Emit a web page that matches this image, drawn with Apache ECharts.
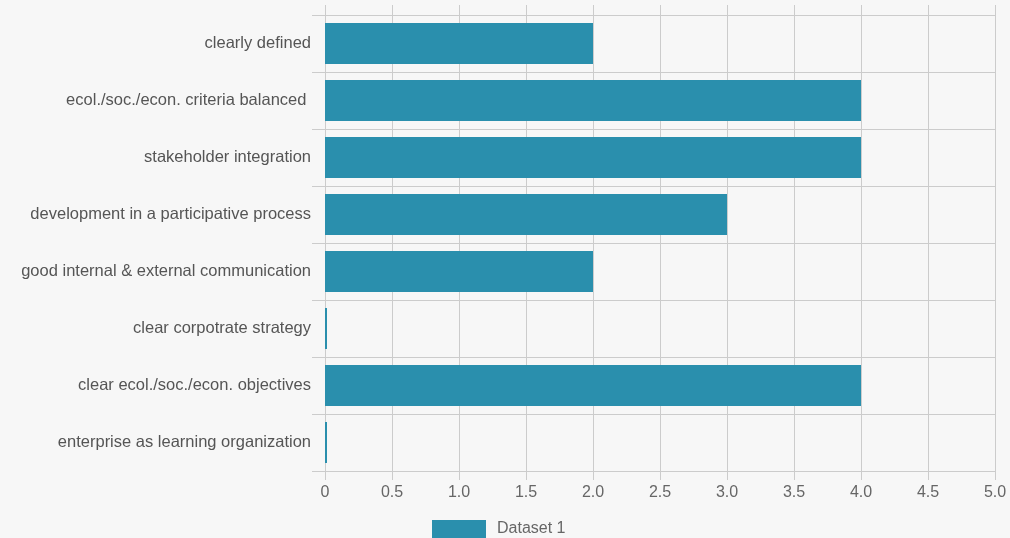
<!DOCTYPE html>
<html>
<head>
<meta charset="utf-8">
<script src="https://cdn.jsdelivr.net/npm/echarts@6/dist/echarts.min.js"></script>
<style>
html, body { margin: 0; padding: 0; background: #f7f7f7; }
#chart { width: 1010px; height: 538px; }
</style>
</head>
<body>
<div id="chart"></div>
<script>
var categories = [
    'clearly defined',
    'ecol./soc./econ. criteria balanced ',
    'stakeholder integration',
    'development in a participative process',
    'good internal & external communication',
    'clear corpotrate strategy',
    'clear ecol./soc./econ. objectives',
    'enterprise as learning organization'
];
var dataset1 = [2, 4, 4, 3, 2, 0, 4, 0];
var xTicks = { min: 0, max: 5, step: 0.5 };

var chart = echarts.init(document.getElementById('chart'));
var gridColor = '#cccccc';
var textColor = '#666666';

chart.setOption({
    backgroundColor: '#f7f7f7',
    textStyle: { fontFamily: 'Liberation Sans, Arial, sans-serif' },
    grid: { left: 325, right: 15, top: 15, bottom: 67 },
    legend: {
        bottom: -5,
        left: 427,
        itemWidth: 54,
        itemHeight: 18,
        itemGap: 10,
        icon: 'rect',
        textStyle: { fontSize: 16, color: textColor, padding: [0, 0, 0, 6] },
        data: ['Dataset 1']
    },
    xAxis: [{
        type: 'value',
        position: 'bottom',
        min: xTicks.min,
        max: xTicks.max,
        interval: xTicks.step,
        axisLine: { show: true, lineStyle: { color: gridColor } },
        axisTick: { show: true, length: 9, lineStyle: { color: gridColor } },
        splitLine: { show: true, lineStyle: { color: gridColor } },
        axisLabel: {
            color: textColor, fontSize: 16, margin: 14,
            formatter: function (v) { return v === 0 ? '0' : v.toFixed(1); }
        }
    }, {
        type: 'value',
        position: 'top',
        min: xTicks.min,
        max: xTicks.max,
        interval: xTicks.step,
        axisLine: { show: false },
        axisTick: { show: true, length: 10, lineStyle: { color: gridColor } },
        splitLine: { show: false },
        axisLabel: { show: false }
    }],
    yAxis: {
        type: 'category',
        inverse: true,
        data: categories,
        axisLine: { show: true, lineStyle: { color: gridColor } },
        axisTick: { show: true, length: 13, alignWithLabel: false, lineStyle: { color: gridColor } },
        splitLine: { show: true, lineStyle: { color: gridColor } },
        axisLabel: { color: '#555555', fontSize: 16.5, margin: 14 }
    },
    series: [{
        name: 'Dataset 1',
        type: 'bar',
        xAxisIndex: 0,
        data: dataset1,
        barCategoryGap: '28%',
        barMinHeight: 2,
        itemStyle: { color: '#2a8fad' }
    }]
});
</script>
</body>
</html>
